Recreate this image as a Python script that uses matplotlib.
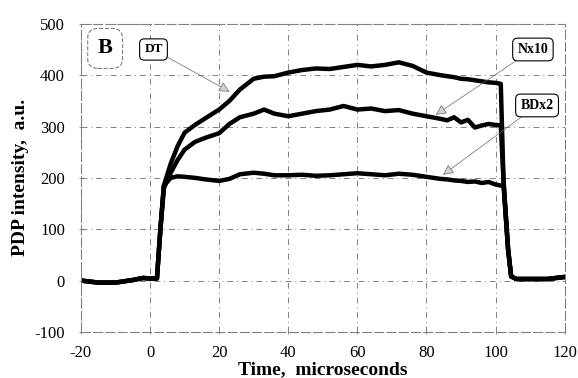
import numpy as np
import matplotlib
matplotlib.use("Agg")
import matplotlib.pyplot as plt

plt.rcParams['font.family'] = ['Liberation Serif', 'DejaVu Serif']
plt.rcParams['axes.unicode_minus'] = False

# tiempo (microsegundos) comun a las tres curvas
t = [-20, -15, -10, -5, -2, 0, 2, 3, 4, 6, 8, 10, 13, 16, 20, 23, 26, 30, 33, 36,
     40, 44, 48, 52, 56, 60, 64, 68, 72, 76, 80, 84, 86, 88, 90, 92, 94, 96, 98,
     100, 101.5, 102.3, 103.6, 104.5, 106, 110, 115, 120]

dt = [0, -4, -4, 1, 5, 4, 4, 100, 185, 228, 262, 288, 303, 316, 333, 350, 372, 393, 397, 398,
      405, 410, 413, 412, 416, 420, 417, 420, 425, 418, 405, 400, 398, 396, 393, 392, 390, 388, 386,
      385, 383, 193, 62, 8, 3, 3, 3, 7]

nx10 = [0, -4, -4, 1, 5, 4, 4, 100, 180, 210, 235, 255, 270, 278, 287, 305, 318, 325, 333, 325,
        320, 325, 330, 333, 340, 333, 335, 330, 332, 325, 320, 315, 312, 318, 308, 313, 298, 302, 305,
        303, 302, 193, 62, 8, 3, 3, 3, 7]

bdx2 = [0, -4, -4, 1, 5, 4, 4, 100, 185, 200, 203, 202, 200, 197, 194, 198, 207, 210, 208, 205,
        205, 206, 204, 205, 207, 209, 207, 205, 208, 206, 202, 198, 197, 195, 194, 192, 193, 190, 192,
        187, 185, 185, 62, 8, 3, 3, 3, 7]

xticks = [-20, 0, 20, 40, 60, 80, 100, 120]
yticks = [-100, 0, 100, 200, 300, 400, 500]

fig = plt.figure(figsize=(5.78, 3.78), dpi=100)
ax = fig.add_axes([0.140, 0.122, 0.837, 0.815])

for serie in [bdx2, nx10, dt]:
    ax.plot(t, serie, color='black', lw=3.2, solid_capstyle='round', solid_joinstyle='round')

ax.set_xlim(-20, 120)
ax.set_ylim(-100, 500)
ax.set_xticks(xticks)
ax.set_yticks(yticks)
ax.tick_params(labelsize=12, length=3, width=0.6, direction='inout', color='gray')
ax.tick_params(axis='y', pad=10)
ax.tick_params(axis='x', pad=8)
ax.grid(True, color='gray', lw=0.7, linestyle=(0, (6, 4, 1, 4)))
for s in ax.spines.values():
    s.set_color('gray')
    s.set_linewidth(0.8)
    s.set_linestyle((0, (8, 3)))

ax.set_xlabel("Time,  microseconds", fontsize=14, fontweight='bold', labelpad=0)
ax.set_ylabel("PDP intensity,  a.u.", fontsize=14, fontweight='bold', labelpad=4)

# etiqueta del panel
ax.text(-13, 452, "B", fontsize=16, fontweight='bold', ha='center', va='center',
        bbox=dict(boxstyle='round,pad=0.45', fc='white', ec='gray', lw=0.8, ls='--'))

flecha = dict(arrowstyle='-|>', fc='lightgray', ec='dimgray', lw=0.5,
              mutation_scale=16, shrinkA=0, shrinkB=0)
caja = dict(boxstyle='round,pad=0.35', fc='white', ec='black', lw=0.8)

ax.annotate("DT", xy=(23, 368), xytext=(1, 450), fontsize=9.5, fontweight='bold',
            ha='center', va='center', bbox=caja, arrowprops=flecha)
ax.annotate("Nx10", xy=(82.7, 323), xytext=(110.8, 450), fontsize=10, fontweight='bold',
            ha='center', va='center', bbox=caja, arrowprops=flecha)
ax.annotate("BDx2", xy=(84.8, 206), xytext=(112, 341), fontsize=10, fontweight='bold',
            ha='center', va='center', bbox=caja, arrowprops=flecha)

fig.savefig("out.png", dpi=100)
